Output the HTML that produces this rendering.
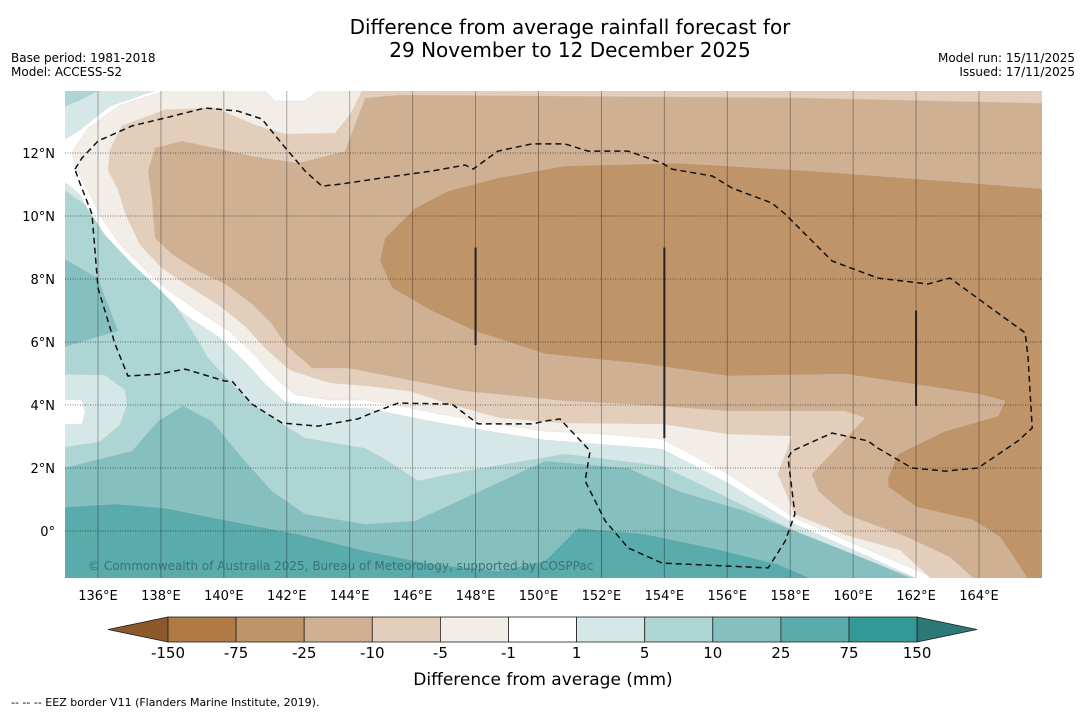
<!DOCTYPE html>
<html><head><meta charset="utf-8"><style>
html,body{margin:0;padding:0;background:#fff;}
body{width:1085px;height:713px;overflow:hidden;font-family:"DejaVu Sans","Liberation Sans",sans-serif;}
svg text{font-family:"DejaVu Sans","Liberation Sans",sans-serif;}
</style></head><body>
<svg id="chart" width="1085" height="713" viewBox="0 0 1085 713" xmlns="http://www.w3.org/2000/svg">
<defs><clipPath id="plotclip"><rect x="65" y="91" width="977" height="487"/></clipPath></defs>
<text x="570" y="34" font-size="20" text-anchor="middle" fill="#000">Difference from average rainfall forecast for</text>
<text x="570" y="57" font-size="20" text-anchor="middle" fill="#000">29 November to 12 December 2025</text>
<text x="11" y="62" font-size="12">Base period: 1981-2018</text>
<text x="11" y="76" font-size="12">Model: ACCESS-S2</text>
<text x="1075" y="62" font-size="12" text-anchor="end">Model run: 15/11/2025</text>
<text x="1075" y="76" font-size="12" text-anchor="end">Issued: 17/11/2025</text>
<g id="map" clip-path="url(#plotclip)"></g>
<g id="axes"></g>
<g id="cbar"></g>
<text x="543" y="685" font-size="17" text-anchor="middle">Difference from average (mm)</text>
<text x="11" y="706" font-size="11">--  --  -- EEZ border V11 (Flanders Marine Institute, 2019).</text>
</svg>
<script>
// ---- data (lon, lat) ----
const lonTicks = [136,138,140,142,144,146,148,150,152,154,156,158,160,162,164];
const latTicks = [0,2,4,6,8,10,12];
const cbarBounds = ["-150","-75","-25","-10","-5","-1","1","5","10","25","75","150"];
const cbarColors = ["#b07a45","#c09469","#d0b092","#e3cebb","#f2ede7","#ffffff","#d5e8e7","#acd5d4","#85bfbf","#5aabab","#339997"];
const cbarLowColor = "#8b5a2b";
const cbarHighColor = "#2b7876";

const contourLtM1 = [[138.13,14.3],[138.13,13.97],[136.70,13.52],[135.68,12.79],[135.17,12.03],[135.30,11.52],[135.75,10.67],[136.06,10.03],[136.70,9.08],[137.49,8.29],[138.29,7.59],[139.24,6.95],[140.20,6.32],[140.99,5.56],[141.63,4.86],[142.26,4.32],[143.37,4.16],[144.49,4.16],[145.60,3.97],[146.87,3.71],[148.78,3.37],[150.21,3.17],[151.96,3.08],[153.93,2.92],[156.02,1.81],[158.15,0.41],[160.79,-0.73],[162.60,-1.49],[163.1,-2],[167,-2],[167,14.3],[143,14.3],[142.99,13.97],[142.58,13.65],[141.63,13.65],[141.31,13.97],[141.3,14.3]];
const contourLtM5 = [[144.4,14.3],[144.39,13.97],[144.01,13.21],[143.53,12.63],[141.94,12.60],[140.99,12.89],[139.72,13.43],[138.13,13.37],[136.76,12.86],[136.38,12.10],[136.32,11.46],[136.64,10.83],[136.89,10.03],[137.34,9.08],[138.03,8.35],[138.92,7.75],[139.88,7.14],[140.67,6.51],[141.31,5.81],[142.10,5.11],[143.37,4.70],[144.65,4.60],[145.92,4.44],[147.19,4.03],[148.78,3.59],[150.84,3.43],[153.93,3.40],[156.02,3.08],[158.06,3.02],[157.61,1.81],[158.15,0.54],[159.74,-0.12],[161.49,-0.60],[162.48,-1.52],[162.8,-2],[167,-2],[167,14.3]];
const contourLtM10 = [[167,13.56],[158.31,13.75],[150.21,13.81],[145.60,13.84],[144.49,13.75],[143.85,12.06],[142.36,11.68],[140.89,11.90],[139.72,12.16],[138.67,12.38],[137.81,12.16],[137.59,11.43],[137.72,10.48],[137.81,9.30],[138.35,8.79],[139.18,8.25],[140.04,7.84],[140.89,7.21],[141.53,6.57],[141.94,5.94],[142.80,5.17],[143.95,5.17],[145.54,4.86],[147.67,4.44],[150.84,4.13],[153.39,4.00],[156.02,3.81],[159.74,3.81],[160.38,3.59],[158.69,1.81],[158.89,1.27],[159.74,0.54],[161.71,-0.19],[163.08,-0.83],[163.88,-1.56],[164.0,-2],[167,-2]];
const contourLtM25 = [[146.08,10.25],[147.12,10.79],[148.71,11.21],[150.84,11.59],[154.44,11.68],[158.69,11.43],[162.92,11.11],[167,10.79],[167,-2],[165.7,-2],[165.56,-1.56],[165.31,-1.14],[164.67,-0.19],[163.81,0.35],[162.03,0.76],[161.11,1.40],[161.11,1.71],[161.43,2.44],[162.92,3.17],[164.61,3.65],[164.83,4.13],[163.97,4.35],[161.87,4.67],[159.74,4.98],[156.02,4.92],[153.39,5.30],[150.21,5.62],[147.98,6.35],[146.62,6.98],[145.35,7.71],[144.96,8.57],[145.12,9.30]];
const contourGt1NW = [[134.5,14.3],[137.9,14.3],[137.81,13.97],[136.38,13.49],[135.43,12.73],[134.5,12.16]];
const contourGt1 = [[134.5,11.46],[135.43,10.67],[135.75,10.03],[136.32,9.08],[137.11,8.22],[137.97,7.46],[138.92,6.76],[139.88,6.13],[140.67,5.37],[141.31,4.67],[141.94,4.10],[143.37,3.90],[144.49,3.90],[145.60,3.68],[146.87,3.43],[148.78,3.11],[150.21,2.89],[153.93,2.60],[156.02,1.52],[158.15,0.22],[160.79,-0.95],[161.97,-1.49],[162.2,-2],[134.5,-2]];
const contourGt5NW = [[134.5,14.3],[136.1,14.3],[136,13.97],[135.43,13.68],[134.5,13.3]];
const contourGt5 = [[134.5,11.14],[135.59,10.35],[136.22,9.40],[137.02,8.54],[137.97,7.65],[138.45,7.17],[138.99,6.35],[139.50,5.49],[140.26,4.67],[140.89,4.03],[141.85,3.40],[142.58,2.95],[144.49,2.63],[145.22,2.22],[146.17,1.59],[147.67,1.90],[150.84,2.44],[153.93,2.06],[156.02,1.05],[158.15,0],[159.74,-0.63],[161.33,-1.27],[162.06,-1.52],[162.3,-2],[134.5,-2]];
const pocketLt5W = [[134.5,4.98],[136.22,4.95],[136.86,4.48],[136.92,4.00],[136.70,3.37],[136.06,2.83],[134.5,2.60]];
const pocketLt1W = [[134.5,4.19],[135.49,4.16],[135.59,3.78],[135.49,3.40],[134.5,3.37]];
const contourGt10W = [[134.5,8.89],[136,8.03],[136.64,6.35],[134.5,5.71]];
const contourGt10 = [[134.5,1.90],[137.08,2.54],[137.91,3.49],[138.70,3.97],[139.62,3.49],[140.58,2.32],[141.53,1.27],[142.58,0.54],[144.49,0.22],[146.08,0.32],[147.67,1.05],[150.21,2.22],[152.85,2.00],[154.44,1.27],[156.57,0.63],[158.69,-0.22],[160.79,-1.05],[161.87,-1.52],[162.1,-2],[134.5,-2]];
const contourGt25 = [[134.5,0.73],[136.54,0.86],[138.13,0.73],[139.72,0.41],[142.36,-0.10],[144.49,-0.63],[146.62,-1.05],[148.71,-1.27],[150.21,-0.95],[151.26,0.10],[153.39,-0.10],[155.52,-0.54],[157.61,-1.05],[158.69,-1.52],[158.9,-2],[134.5,-2]];
const eezBorder = [[135.27,11.49],[135.49,11.84],[136,12.38],[137.08,12.86],[138.13,13.11],[139.40,13.43],[140.45,13.33],[141.21,13.08],[141.85,12.29],[142.58,11.43],[143.12,10.95],[143.76,11.02],[145.03,11.21],[146.62,11.43],[147.67,11.62],[147.92,11.49],[148.71,12.06],[149.79,12.29],[150.84,12.29],[151.57,12.06],[152.85,12.06],[153.93,11.68],[154.24,11.49],[155.52,11.27],[156.15,10.89],[157.42,10.41],[157.84,10.06],[159.33,8.57],[160.79,8.03],[162.38,7.84],[163.08,8.03],[165.47,6.29],[165.56,5.49],[165.69,3.27],[165.24,2.86],[163.97,2.00],[162.92,1.90],[161.87,2.00],[160.79,2.63],[160.47,2.86],[159.33,3.11],[158.06,2.54],[157.93,2.32],[158.15,0.54],[157.84,-0.32],[157.30,-1.17],[153.93,-1.02],[152.85,-0.54],[152.12,0.32],[151.48,1.59],[151.64,2.54],[150.68,3.56],[150.21,3.49],[149.79,3.40],[148.08,3.40],[147.25,4.03],[145.54,4.06],[144.71,3.75],[144.26,3.56],[142.99,3.33],[141.85,3.43],[140.89,4.03],[140.26,4.76],[140.04,4.76],[138.77,5.14],[137.91,4.98],[136.95,4.92],[136.54,5.94],[136,7.71],[135.81,10.06],[135.36,11.21],[135.27,11.49]];
const eezSegments = [[148,9.0,5.9],[154,9.0,2.95],[162,7.0,3.97]];

// ---- axes ----
const NS = "http://www.w3.org/2000/svg";
function X(lon){ return 98 + (lon-136)*31.464; }
function Y(lat){ return 531 - lat*31.5; }
function mk(tag, attrs, parent){ const e=document.createElementNS(NS,tag); for(const k in attrs) e.setAttribute(k,attrs[k]); parent.appendChild(e); return e; }
function pts(arr){ return arr.map(p=>X(p[0]).toFixed(1)+","+Y(p[1]).toFixed(1)).join(" "); }

const map = document.getElementById("map");
const bg = mk("rect",{x:65,y:91,width:977,height:487,fill:"#ffffff"},map);



const layers = [
  [contourLtM1,"#f2ede7","band-minus5-to-minus1"],
  [contourLtM5,"#e3cebb","band-minus10-to-minus5"],
  [contourLtM10,"#d0b092","band-minus25-to-minus10"],
  [contourLtM25,"#c09469","band-minus75-to-minus25"],
  [contourGt1NW,"#d5e8e7","band-1-to-5-northwest"],
  [contourGt1,"#d5e8e7","band-1-to-5"],
  [contourGt5NW,"#acd5d4","band-5-to-10-northwest"],
  [contourGt5,"#acd5d4","band-5-to-10"],
  [pocketLt5W,"#d5e8e7","band-1-to-5-west-pocket"],
  [pocketLt1W,"#ffffff","band-near-zero-west-pocket"],
  [contourGt10W,"#85bfbf","band-10-to-25-west"],
  [contourGt10,"#85bfbf","band-10-to-25"],
  [contourGt25,"#5aabab","band-25-to-75"]
];
layers.forEach(l=>{
  const p = mk("polygon",{points:pts(l[0]),fill:l[1],stroke:"#c8c8c8","stroke-width":0.4,"stroke-opacity":0.6},map);
  
  
});

// grid
lonTicks.forEach(lon=>{
  const g = mk("line",{x1:X(lon),x2:X(lon),y1:91,y2:578,stroke:"#000","stroke-opacity":0.35,"stroke-width":0.9},map);
  
  
});
latTicks.forEach(lat=>{
  const g = mk("line",{x1:65,x2:1042,y1:Y(lat),y2:Y(lat),stroke:"#000","stroke-opacity":0.5,"stroke-width":0.9,"stroke-dasharray":"1,1.5"},map);
  
  
});

// EEZ
const eez = mk("polyline",{points:pts(eezBorder),fill:"none",stroke:"#111","stroke-width":1.5,"stroke-dasharray":"6,4"},map);


eezSegments.forEach(s=>{
  const l = mk("line",{x1:X(s[0]),x2:X(s[0]),y1:Y(s[1]),y2:Y(s[2]),stroke:"#222","stroke-width":2},map);
  
  
});

const cr = mk("text",{x:88,y:570,"font-size":12,fill:"#3d7272"},map);
cr.textContent = "© Commonwealth of Australia 2025, Bureau of Meteorology, supported by COSPPac";



// tick labels
const axes = document.getElementById("axes");
lonTicks.forEach(lon=>{
  const t = mk("text",{x:X(lon),y:600,"font-size":13,"text-anchor":"middle"},axes);
  t.textContent = lon+"°E";
  
  
});
latTicks.forEach(lat=>{
  const t = mk("text",{x:55,y:Y(lat)+5,"font-size":13,"text-anchor":"end"},axes);
  t.textContent = lat===0 ? "0°" : lat+"°N";
  
  
});

// colorbar
const cb = document.getElementById("cbar");
const cx0 = 168, cw = 68.1, cy0 = 617, ch = 25;
const low = mk("polygon",{points:(cx0)+","+cy0+" "+(cx0)+","+(cy0+ch)+" 108,"+(cy0+ch/2),fill:cbarLowColor,stroke:"#222","stroke-width":0.8},cb);


cbarColors.forEach((c,i)=>{
  const r = mk("rect",{x:cx0+i*cw,y:cy0,width:cw,height:ch,fill:c,stroke:"#222","stroke-width":0.8},cb);
  
  
});
const xe = cx0+cbarColors.length*cw;
const high = mk("polygon",{points:xe+","+cy0+" "+xe+","+(cy0+ch)+" 977,"+(cy0+ch/2),fill:cbarHighColor,stroke:"#222","stroke-width":0.8},cb);


cbarBounds.forEach((b,i)=>{
  const t = mk("text",{x:cx0+i*cw,y:658,"font-size":15,"text-anchor":"middle"},cb);
  t.textContent = b;
  
  
});
</script>
</body></html>
